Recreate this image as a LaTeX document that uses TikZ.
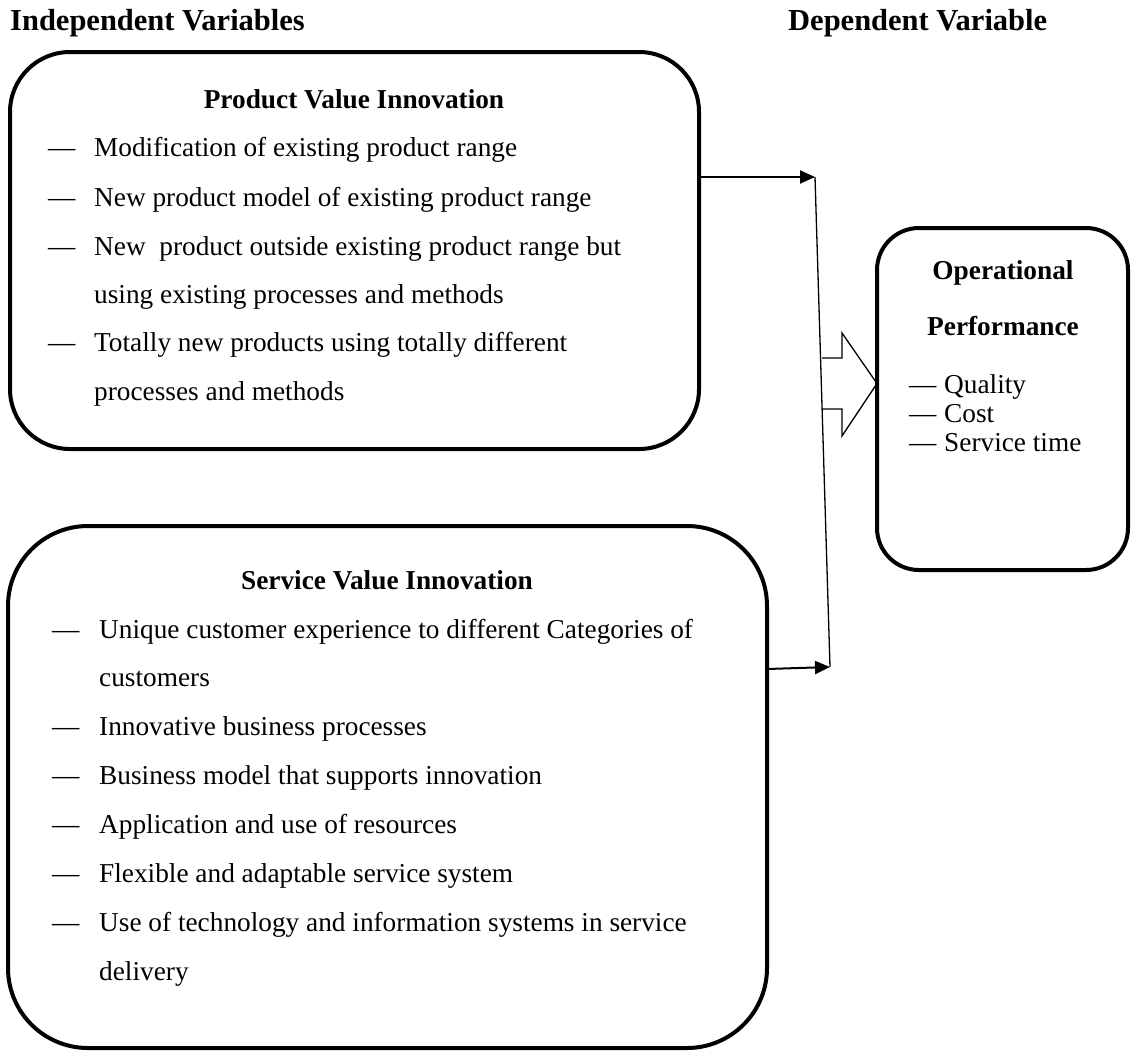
\documentclass[tikz,border=0pt]{standalone}
\usepackage{fontspec}
\setmainfont{Liberation Serif}
\usetikzlibrary{arrows.meta}
\newcommand\bulletdash[1]{\makebox[#1][l]{—}}
\begin{document}
\begin{tikzpicture}[x=1pt,y=-1pt,
  box/.style={draw, line width=4pt, inner sep=0pt, outer sep=0pt, anchor=north west},
  headtext/.style={font=\fontsize{30.5}{34}\selectfont\bfseries, anchor=base west, inner sep=0pt},
  boxtitle/.style={font=\fontsize{27.3}{30}\selectfont\bfseries, anchor=base, inner sep=0pt},
  itemtext/.style={font=\fontsize{27.3}{30}\selectfont, anchor=base west, inner sep=0pt},
  link/.style={line width=2pt, -{Triangle[length=15pt,width=13pt]}},
  joinline/.style={line width=1.3pt},
  blockarrow/.style={line width=1.3pt, line join=miter}
]
\useasboundingbox (0,0) rectangle (1132,1050);

% headings
\node[headtext] (hind) at (10,30) {Independent Variables};
\node[headtext] (hdep) at (788,30) {Dependent Variable};

% boxes
\node[box, rounded corners=60pt, minimum width=689pt, minimum height=397pt] (pvi) at (10,52) {};
\node[box, rounded corners=80pt, minimum width=759pt, minimum height=522pt] (svi) at (8,526) {};
\node[box, rounded corners=42pt, minimum width=251pt, minimum height=342pt] (op) at (877,228) {};

% product value innovation
\node[boxtitle] (pt) at (354,108) {Product Value Innovation};
\node[itemtext] (p1) at (48,156) {\bulletdash{46pt}Modification of existing product range};
\node[itemtext] (p2) at (48,206) {\bulletdash{46pt}New product model of existing product range};
\node[itemtext] (p3) at (48,255) {\bulletdash{46pt}New\ \ product outside existing product range but};
\node[itemtext] (p3b) at (94,303) {using existing processes and methods};
\node[itemtext] (p4) at (48,351) {\bulletdash{46pt}Totally new products using totally different};
\node[itemtext] (p4b) at (94,400) {processes and methods};

% service value innovation
\node[boxtitle] (st) at (387,589) {Service Value Innovation};
\node[itemtext] (s1) at (52,638) {\bulletdash{47pt}Unique customer experience to different Categories of};
\node[itemtext] (s1b) at (99,686) {customers};
\node[itemtext] (s2) at (52,735) {\bulletdash{47pt}Innovative business processes};
\node[itemtext] (s3) at (52,784) {\bulletdash{47pt}Business model that supports innovation};
\node[itemtext] (s4) at (52,833) {\bulletdash{47pt}Application and use of resources};
\node[itemtext] (s5) at (52,882) {\bulletdash{47pt}Flexible and adaptable service system};
\node[itemtext] (s6) at (52,931) {\bulletdash{47pt}Use of technology and information systems in service};
\node[itemtext] (s6b) at (99,980) {delivery};

% operational performance
\node[boxtitle] (ot1) at (1003,279) {Operational};
\node[boxtitle] (ot2) at (1003,335) {Performance};
\node[itemtext] (o1) at (909,393) {\bulletdash{35pt}Quality};
\node[itemtext] (o2) at (909,422) {\bulletdash{35pt}Cost};
\node[itemtext] (o3) at (909,451) {\bulletdash{35pt}Service time};

% connectors
\coordinate (jtop) at (815,177);
\coordinate (jbot) at (830,667);
\draw[link] (pvi.east |- jtop) -- (jtop);
\draw[link] (svi.east |- 0,669) -- (jbot);
\draw[joinline] (jtop) -- (jbot);

% block arrow into the dependent variable
\coordinate (tip) at (op.west |- 0,383.5);
\draw[blockarrow] (822,358) -- (842,358) -- (842,333) -- (tip) -- (842,436) -- (842,409) -- (822,409);
\end{tikzpicture}
\end{document}
